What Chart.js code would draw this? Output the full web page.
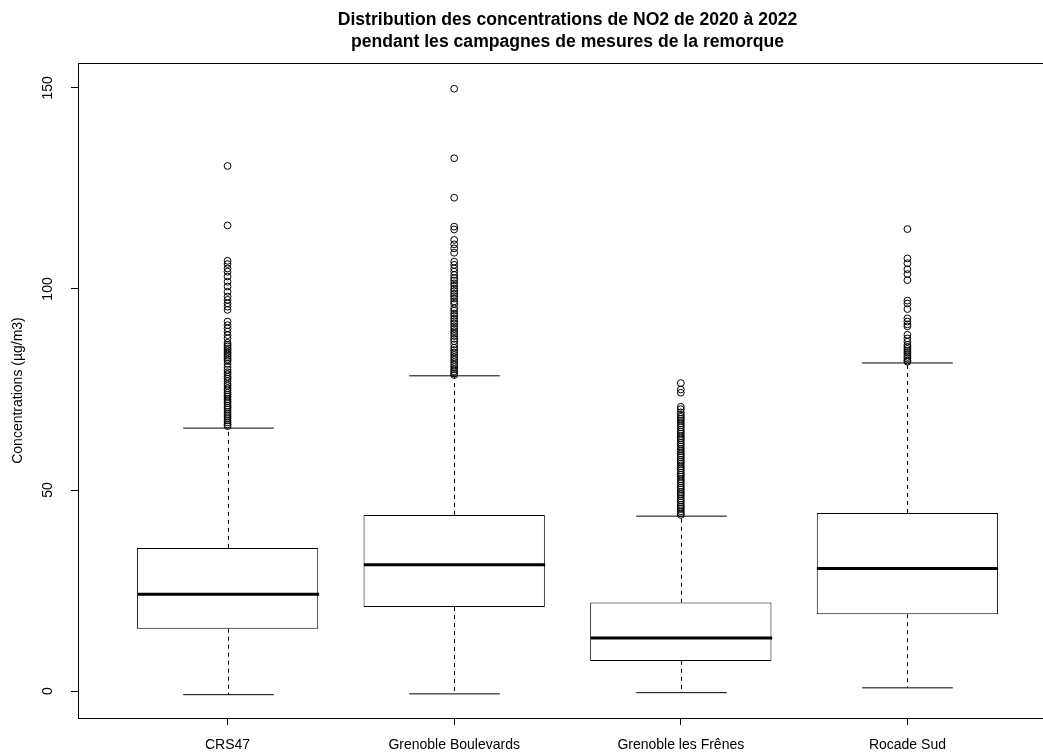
<!DOCTYPE html>
<html>
<head>
<meta charset="utf-8">
<script src="https://cdn.jsdelivr.net/npm/chart.js@4.4.0/dist/chart.umd.min.js"></script>
<style>
  html, body { margin: 0; padding: 0; overflow: hidden; background: #fff; }
  canvas { display: block; }
</style>
</head>
<body>
<canvas id="box-chart" width="1080" height="753"></canvas>
<script>
// Box statistics, one entry per site
var categories = ['CRS47', 'Grenoble Boulevards', 'Grenoble les Frênes', 'Rocade Sud'];
var positions = [1, 2, 3, 4];
var lowerWhisker = [-0.9, -0.7, -0.4, 0.8];
var q1 = [15.5, 20.9, 7.5, 19.1];
var medians = [24.1, 31.4, 13.2, 30.5];
var q3 = [35.6, 43.8, 22.0, 44.3];
var upperWhisker = [65.4, 78.4, 43.5, 81.6];
var yTicks = [0, 50, 100, 150];

// Outliers (points beyond the whiskers)
var outliersCRS47 = [130.6, 115.8, 107.0, 106.2, 105.1, 104.3, 103.1, 101.8, 100.6, 99.3,
  98.1, 97.3, 96.4, 95.6, 94.8, 91.9, 91.0, 90.2, 89.4, 88.5, 87.7, 86.6, 86.1, 85.7,
  85.2, 84.8, 84.3, 83.9, 83.4, 83.0, 82.5, 82.1, 81.4, 80.6, 79.9, 79.3, 78.8, 78.2,
  77.7, 77.1, 76.4, 75.9, 75.3, 74.8, 74.2, 73.7, 73.2, 72.6, 72.1, 71.6, 71.0, 70.5,
  70.0, 69.4, 68.9, 68.4, 67.9, 67.3, 66.8, 66.3, 65.9];
var outliersBoulevards = [149.8, 132.5, 122.7, 115.5, 114.8, 112.2, 111.1, 110.1, 109.0,
  106.8, 106.0, 105.1, 104.3, 103.5, 102.7, 102.1, 101.4, 100.8, 100.1, 99.5, 98.8, 98.2,
  97.6, 96.9, 96.3, 95.2, 94.6, 93.9, 93.3, 92.6, 92.0, 91.4, 90.7, 90.1, 89.5, 88.9,
  88.3, 87.6, 87.0, 86.2, 85.4, 84.8, 84.2, 83.6, 83.0, 82.4, 81.8, 81.2, 80.6, 80.0,
  79.5, 79.0, 78.6];
var outliersFrenes = [76.6, 75.0, 74.2, 70.7, 70.1, 69.3, 68.7, 68.2, 67.7, 67.2, 66.6,
  66.1, 65.6, 65.0, 64.5, 64.0, 63.4, 62.9, 62.4, 61.8, 61.3, 60.8, 60.2, 59.7, 59.1,
  58.6, 58.1, 57.5, 57.0, 56.5, 55.9, 55.4, 54.9, 54.3, 53.8, 53.3, 52.7, 52.2, 51.7,
  51.1, 50.6, 50.1, 49.5, 49.0, 48.5, 47.9, 47.4, 46.9, 46.3, 45.8, 45.3, 44.7, 44.2,
  43.8];
var outliersRocade = [114.9, 107.6, 106.4, 104.9, 103.7, 102.2, 97.1, 96.4, 95.0, 92.7,
  91.9, 91.2, 90.7, 88.6, 87.7, 86.9, 86.1, 85.6, 85.1, 84.6, 84.1, 83.6, 83.1, 82.7,
  82.2, 81.9];

var outlierLists = [outliersCRS47, outliersBoulevards, outliersFrenes, outliersRocade];

Chart.defaults.font.family = "'Liberation Sans', Arial, sans-serif";
Chart.defaults.color = '#000';

var boxData = positions.map(function(p, i) { return { x: p, y: [q1[i], q3[i]] }; });
var outlierData = [];
outlierLists.forEach(function(list, i) {
  list.forEach(function(v) { outlierData.push({ x: positions[i], y: v }); });
});

// whiskers, caps, medians and the frame round the plot
var boxParts = {
  id: 'boxParts',
  afterDatasetsDraw: function(chart) {
    var ctx = chart.ctx;
    var xs = chart.scales.x, ys = chart.scales.y;
    var unit = xs.getPixelForValue(1) - xs.getPixelForValue(0);
    function line(x1, y1, x2, y2) {
      ctx.beginPath(); ctx.moveTo(x1, y1); ctx.lineTo(x2, y2); ctx.stroke();
    }
    ctx.save();
    ctx.strokeStyle = '#000';
    for (var i = 0; i < positions.length; i++) {
      var cx = Math.round(xs.getPixelForValue(positions[i])) + 0.5;
      var yLo = ys.getPixelForValue(lowerWhisker[i]);
      var yQ1 = ys.getPixelForValue(q1[i]);
      var yMed = ys.getPixelForValue(medians[i]);
      var yQ3 = ys.getPixelForValue(q3[i]);
      var yHi = ys.getPixelForValue(upperWhisker[i]);
      ctx.lineWidth = 1;
      ctx.setLineDash([4, 4]);
      line(cx, yQ3, cx, yHi);
      line(cx, yQ1, cx, yLo);
      ctx.setLineDash([]);
      line(cx - 0.2 * unit, yHi, cx + 0.2 * unit, yHi);
      line(cx - 0.2 * unit, yLo, cx + 0.2 * unit, yLo);
      ctx.lineWidth = 3;
      line(cx - 0.4 * unit, yMed, cx + 0.4 * unit, yMed);
    }
    var a = chart.chartArea;
    ctx.lineWidth = 1;
    ctx.strokeRect(Math.round(a.left) + 0.5, Math.round(a.top) + 0.5,
      Math.round(a.right - a.left), Math.round(a.bottom - a.top));
    ctx.restore();
  }
};

var chart = new Chart(document.getElementById('box-chart'), {
  type: 'bar',
  data: {
    datasets: [{
      type: 'bar',
      data: boxData,
      backgroundColor: '#fff',
      borderColor: '#000',
      borderWidth: 1,
      borderSkipped: false,
      barPercentage: 0.8,
      categoryPercentage: 1.0
    }, {
      type: 'scatter',
      data: outlierData,
      pointStyle: 'circle',
      pointRadius: 3.4,
      pointBorderWidth: 1,
      pointBorderColor: '#000',
      pointBackgroundColor: 'rgba(0,0,0,0)'
    }]
  },
  options: {
    responsive: false,
    animation: false,
    devicePixelRatio: 1,
    events: [],
    layout: { padding: { left: 0, right: 23, top: 0, bottom: 0 } },
    plugins: {
      legend: { display: false },
      tooltip: { enabled: false },
      title: {
        display: true,
        fullSize: false,
        text: ['Distribution des concentrations de NO2 de 2020 à 2022',
               'pendant les campagnes de mesures de la remorque'],
        font: { size: 17.6, weight: 'bold', lineHeight: '22px' },
        color: '#000',
        padding: { top: 9, bottom: 10 }
      }
    },
    scales: {
      x: {
        type: 'linear',
        min: 0.34,
        max: 4.66,
        offset: false,
        afterBuildTicks: function(s) { s.ticks = positions.map(function(v) { return { value: v }; }); },
        afterFit: function(s) { s.height = 35; },
        grid: { offset: false, drawOnChartArea: false, drawTicks: true, tickLength: 7, color: '#000' },
        border: { display: true, color: '#000' },
        ticks: {
          autoSkip: false, minRotation: 0, maxRotation: 0, padding: 12,
          font: { size: 14 }, color: '#000',
          callback: function(v, i) { return categories[i]; }
        }
      },
      y: {
        type: 'linear',
        min: -6.7,
        max: 156.2,
        afterBuildTicks: function(s) { s.ticks = yTicks.map(function(v) { return { value: v }; }); },
        afterFit: function(s) { s.width = 78; },
        grid: { drawOnChartArea: false, drawTicks: true, tickLength: 7, color: '#000' },
        border: { display: true, color: '#000' },
        ticks: {
          minRotation: 90, maxRotation: 90, crossAlign: 'center', padding: 11,
          font: { size: 14 }, color: '#000'
        },
        title: {
          display: true, text: 'Concentrations (µg/m3)',
          font: { size: 14 }, color: '#000', padding: { top: 10 }
        }
      }
    }
  },
  plugins: [boxParts]
});
</script>
</body>
</html>
